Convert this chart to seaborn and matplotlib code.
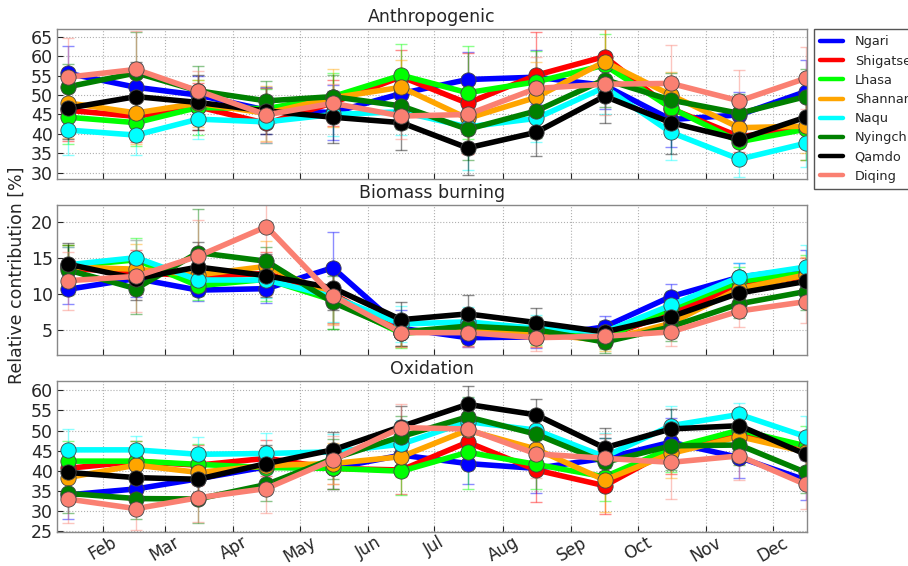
import numpy as np
import pandas as pd
import matplotlib
matplotlib.use("Agg")
import matplotlib.pyplot as plt
from matplotlib.lines import Line2D
import seaborn as sns

# ---------------- data ----------------
MONTHS = ['Jan', 'Feb', 'Mar', 'Apr', 'May', 'Jun', 'Jul', 'Aug', 'Sep', 'Oct', 'Nov', 'Dec']
STATIONS = ['Ngari', 'Shigatse', 'Lhasa', 'Shannan', 'Naqu', 'Nyingchi', 'Qamdo', 'Diqing']
COLORS = ['#0000ff', '#ff0000', '#00ff00', '#ffa500', '#00ffff', '#008000', '#000000', '#fa8072']
PANEL_TITLES = ['Anthropogenic', 'Biomass burning', 'Oxidation']

anthro = {
    'Ngari':    [55.6, 52.0, 50.0, 46.1, 45.5, 50.4, 54.0, 54.6, 52.5, 43.7, 44.9, 50.9],
    'Shigatse': [46.1, 44.5, 47.0, 42.7, 48.0, 54.7, 47.9, 55.1, 59.9, 46.5, 39.3, 41.4],
    'Lhasa':    [44.3, 42.9, 46.8, 46.5, 49.6, 55.1, 50.6, 53.4, 57.7, 46.7, 38.0, 41.2],
    'Shannan':  [48.0, 45.4, 47.9, 45.3, 49.3, 52.0, 44.0, 49.4, 58.6, 50.0, 41.6, 42.0],
    'Naqu':     [41.0, 39.7, 43.8, 43.1, 45.0, 45.7, 41.8, 44.0, 52.0, 40.4, 33.5, 37.6],
    'Nyingchi': [52.1, 55.7, 51.1, 48.5, 49.6, 47.2, 41.2, 45.9, 54.0, 48.7, 45.3, 49.6],
    'Qamdo':    [46.6, 49.6, 48.1, 45.9, 44.3, 42.9, 36.4, 40.4, 49.7, 42.9, 38.6, 44.3],
    'Diqing':   [54.6, 56.6, 51.1, 44.9, 47.9, 44.6, 45.0, 51.7, 52.8, 53.0, 48.5, 54.3],
}
anthro_err = {
    'Ngari':    [7.0, 6.0, 5.0, 6.0, 7.0, 6.0, 7.0, 7.0, 6.0, 7.0, 6.0, 8.0],
    'Shigatse': [8.0, 6.5, 6.0, 5.0, 6.0, 7.0, 13.0, 11.0, 8.0, 7.0, 4.0, 8.0],
    'Lhasa':    [7.0, 6.0, 7.0, 5.0, 6.0, 8.0, 12.0, 8.0, 8.0, 7.0, 4.0, 8.0],
    'Shannan':  [9.0, 8.0, 6.0, 7.0, 7.5, 7.0, 9.0, 9.0, 8.5, 6.0, 5.0, 7.0],
    'Naqu':     [6.5, 5.0, 5.0, 5.5, 5.5, 6.0, 11.0, 6.0, 7.0, 7.0, 4.5, 6.0],
    'Nyingchi': [6.0, 10.5, 6.5, 5.0, 5.5, 6.0, 8.0, 7.0, 7.0, 7.0, 5.0, 7.0],
    'Qamdo':    [8.0, 9.0, 7.0, 6.0, 6.7, 7.0, 7.0, 6.0, 7.0, 8.0, 4.0, 6.0],
    'Diqing':   [10.0, 10.0, 5.0, 7.0, 5.0, 6.0, 8.0, 8.0, 8.0, 10.0, 8.0, 8.0],
}

biomass = {
    'Ngari':    [10.6, 12.1, 10.5, 10.7, 13.6, 5.2, 3.9, 4.0, 5.4, 9.6, 12.3, 13.5],
    'Shigatse': [13.5, 13.0, 12.4, 12.8, 10.0, 4.7, 4.7, 4.4, 4.0, 7.3, 11.0, 12.4],
    'Lhasa':    [13.8, 14.7, 11.1, 12.0, 9.1, 4.5, 5.2, 4.7, 3.8, 8.0, 11.7, 12.9],
    'Shannan':  [13.7, 13.4, 12.6, 13.8, 9.8, 4.6, 5.0, 4.5, 3.5, 5.9, 10.7, 12.6],
    'Naqu':     [14.0, 15.0, 11.9, 11.9, 9.6, 5.8, 6.1, 5.2, 4.7, 8.4, 12.3, 13.7],
    'Nyingchi': [13.3, 10.7, 15.7, 14.5, 8.8, 4.7, 5.5, 5.0, 3.3, 5.4, 8.6, 10.3],
    'Qamdo':    [14.1, 12.1, 13.7, 12.5, 10.8, 6.4, 7.2, 6.0, 4.7, 6.8, 10.1, 11.7],
    'Diqing':   [11.8, 12.4, 15.2, 19.3, 9.7, 4.6, 4.6, 3.9, 4.1, 4.7, 7.6, 8.9],
}
biomass_err = {
    'Ngari':    [2.0, 2.5, 1.5, 2.0, 4.9, 2.5, 1.3, 1.5, 1.5, 1.8, 1.9, 2.5],
    'Shigatse': [3.0, 3.0, 2.0, 3.0, 4.0, 2.0, 2.0, 1.8, 1.5, 2.0, 2.0, 2.5],
    'Lhasa':    [3.0, 3.0, 2.0, 3.0, 4.0, 2.0, 2.0, 1.8, 1.5, 2.0, 2.0, 2.5],
    'Shannan':  [3.0, 3.5, 2.5, 3.5, 4.0, 2.0, 2.0, 1.8, 1.5, 2.0, 2.0, 2.5],
    'Naqu':     [2.5, 2.5, 2.0, 2.5, 3.5, 2.5, 2.0, 1.8, 1.5, 2.0, 2.0, 3.0],
    'Nyingchi': [3.5, 3.5, 6.0, 2.0, 3.7, 2.0, 2.0, 1.8, 1.5, 2.0, 2.0, 2.5],
    'Qamdo':    [3.0, 3.0, 3.5, 3.0, 3.0, 2.5, 2.6, 2.0, 1.5, 2.0, 2.0, 2.5],
    'Diqing':   [4.0, 5.0, 5.0, 4.0, 4.0, 2.0, 2.0, 1.8, 1.5, 2.0, 2.2, 3.0],
}

oxid = {
    'Ngari':    [34.0, 35.5, 38.0, 41.0, 40.6, 43.9, 41.8, 40.6, 43.1, 47.1, 43.3, 37.7],
    'Shigatse': [40.6, 42.3, 41.4, 43.1, 40.6, 40.2, 47.1, 40.2, 36.3, 45.2, 49.7, 44.7],
    'Lhasa':    [42.4, 42.4, 41.6, 40.8, 40.6, 39.9, 44.6, 41.6, 38.5, 45.6, 50.1, 46.2],
    'Shannan':  [38.3, 41.4, 39.6, 41.3, 41.8, 43.5, 50.1, 45.4, 37.7, 44.3, 48.5, 44.7],
    'Naqu':     [45.2, 45.2, 44.1, 44.3, 44.7, 46.6, 52.2, 50.1, 43.5, 51.2, 54.0, 48.5],
    'Nyingchi': [34.4, 33.1, 33.0, 36.6, 43.0, 48.5, 53.4, 49.1, 42.1, 46.2, 46.4, 39.6],
    'Qamdo':    [39.6, 38.3, 37.9, 41.8, 45.2, 51.0, 56.5, 53.9, 45.7, 50.4, 51.2, 44.1],
    'Diqing':   [33.0, 30.6, 33.3, 35.6, 42.7, 50.7, 50.4, 44.2, 43.1, 42.1, 43.7, 36.6],
}
oxid_err = {
    'Ngari':    [6.0, 5.0, 4.5, 4.0, 5.0, 5.0, 5.0, 6.0, 5.0, 6.0, 5.0, 5.0],
    'Shigatse': [5.0, 5.0, 5.0, 4.5, 5.0, 6.0, 6.0, 8.0, 7.0, 6.0, 5.0, 5.0],
    'Lhasa':    [5.0, 5.0, 5.0, 4.5, 5.0, 6.0, 9.0, 6.0, 6.0, 6.0, 5.0, 5.0],
    'Shannan':  [5.0, 5.0, 5.0, 4.5, 5.0, 5.0, 6.0, 6.0, 8.0, 6.0, 5.0, 5.0],
    'Naqu':     [5.3, 3.5, 4.2, 5.0, 4.5, 6.0, 6.0, 5.0, 6.0, 5.0, 2.8, 5.0],
    'Nyingchi': [5.0, 5.0, 6.0, 4.0, 5.0, 5.0, 5.0, 5.0, 6.0, 6.0, 5.0, 5.0],
    'Qamdo':    [5.0, 5.0, 5.0, 4.5, 4.5, 5.0, 4.5, 4.0, 5.0, 5.0, 4.0, 5.0],
    'Diqing':   [6.0, 5.3, 6.0, 6.0, 6.0, 6.0, 6.0, 6.0, 6.0, 9.0, 6.0, 6.0],
}

PANEL_DATA = [(anthro, anthro_err), (biomass, biomass_err), (oxid, oxid_err)]
YTICKS = [list(range(30, 66, 5)), [5, 10, 15, 20], list(range(25, 61, 5))]
YLIMS = [(28.4, 67.0), (1.5, 22.3), (24.8, 62.3)]

# x positions: mid-month day of year, ticks at first day of Feb..Dec
X_DAYS = [pd.Timestamp(2015, m, 16).dayofyear for m in range(1, 13)]
TICK_DAYS = [pd.Timestamp(2015, m, 1).dayofyear for m in range(2, 13)]
TICK_LABELS = MONTHS[1:]

# ---------------- style ----------------
sns.set_style("whitegrid", {
    "grid.linestyle": ":",
    "grid.color": "#b0b0b0",
    "axes.edgecolor": "#888888",
})
plt.rcParams['font.family'] = ['DejaVu Sans']
plt.rcParams['axes.linewidth'] = 1.0

fig = plt.figure(figsize=(9.08, 5.66), dpi=100)
W, H = 908.0, 566.0
left, right = 57 / W, 807 / W
panel_px = [(29, 179), (205, 355), (381, 532)]
axes = []
for (t, b) in panel_px:
    ax = fig.add_axes([left, 1 - b / H, right - left, (b - t) / H])
    axes.append(ax)

palette = dict(zip(STATIONS, COLORS))

for i, ax in enumerate(axes):
    vals, errs = PANEL_DATA[i]
    rows = []
    for s in STATIONS:
        for xd, v in zip(X_DAYS, vals[s]):
            rows.append({'station': s, 'day': xd, 'value': v})
    df = pd.DataFrame(rows)
    for s in STATIONS:
        ax.errorbar(X_DAYS, vals[s], yerr=errs[s], fmt='none', ecolor=palette[s],
                    elinewidth=1.0, capsize=4, capthick=1.0, alpha=0.45, zorder=1.5)
    sns.lineplot(data=df, x='day', y='value', hue='station', hue_order=STATIONS,
                 palette=palette, marker='o', markersize=11, linewidth=4,
                 markeredgecolor='#444444', markeredgewidth=0.6,
                 legend=False, ax=ax, sort=False, zorder=2)
    ax.set_xlim(11.2, 350.6)
    ax.set_ylim(*YLIMS[i])
    ax.set_yticks(YTICKS[i])
    ax.set_xticks(TICK_DAYS)
    ax.set_xlabel('')
    ax.set_ylabel('')
    ax.set_title(PANEL_TITLES[i], fontsize=12.5, pad=5)
    ax.tick_params(axis='y', labelsize=12.5, direction='in', length=4, pad=3, left=True)
    ax.tick_params(axis='x', direction='in', length=4, bottom=True)
    ax.grid(True, linestyle=':', color='#b0b0b0', linewidth=0.8)
    for sp in ax.spines.values():
        sp.set_color('#888888')
    if i < 2:
        ax.set_xticklabels([])
    else:
        ax.set_xticklabels(TICK_LABELS, rotation=30, ha='center', fontsize=12)
        ax.tick_params(axis='x', pad=1)

fig.text(17 / W, 1 - 275 / H, 'Relative contribution [%]', rotation=90,
         va='center', ha='center', fontsize=12.5)

handles = [Line2D([0], [0], color=c, lw=3.2) for c in COLORS]
leg = fig.legend(handles, STATIONS, loc='upper left',
                 bbox_to_anchor=(814 / W, 1 - 29 / H), bbox_transform=fig.transFigure,
                 fontsize=9.3, frameon=True, fancybox=False, framealpha=1,
                 edgecolor='#555555', borderaxespad=0, borderpad=0.5,
                 labelspacing=0.48, handlelength=1.75, handletextpad=0.9)
leg.get_frame().set_linewidth(1.0)

fig.savefig('out.png', dpi=100)
